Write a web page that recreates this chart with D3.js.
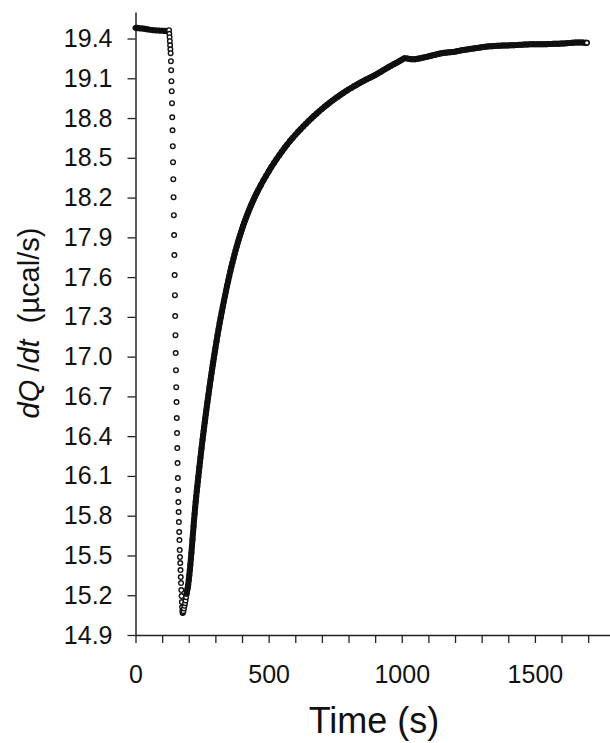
<!DOCTYPE html>
<html>
<head>
<meta charset="utf-8">
<script src="https://cdn.jsdelivr.net/npm/d3@7"></script>
<style>
  html, body { margin: 0; padding: 0; background: #fff; }
  svg { display: block; font-family: "Liberation Sans", Arial, sans-serif; }
</style>
</head>
<body>
<svg id="chart" width="610" height="743"></svg>
<script>
// [time (s), dQ/dt (µcal/s)]
var baseline = [[0,19.48],[3,19.478],[6,19.482],[9,19.477],[12,19.479],[15,19.476],[18,19.478],[21,19.475],
  [24,19.477],[27,19.474],[30,19.476],[33,19.472],[36,19.473],[39,19.47],[42,19.471],[45,19.468],[48,19.469],
  [51,19.466],[54,19.467],[57,19.464],[60,19.465],[63,19.463],[66,19.464],[69,19.462],[72,19.463],[75,19.461],
  [78,19.462],[81,19.46],[84,19.461],[87,19.459],[90,19.46],[93,19.458],[96,19.459],[99,19.458],[102,19.459],
  [105,19.457],[108,19.458],[111,19.457],[114,19.458],[117,19.456],[120,19.457],[123,19.456]];

var injection = [[126,19.463],[127,19.436],[128,19.41],[129,19.38],[130,19.349],[131,19.319],[132,19.289],
  [133,19.229],[134,19.161],[135,19.078],[136,19.003],[137,18.912],[138,18.806],[139,18.708],[140,18.588],
  [141,18.467],[142,18.339],[143,18.203],[144,18.067],[145,17.917],[146,17.766],[147,17.615],[148,17.464],
  [149,17.306],[150,17.162],[151,17.027],[152,16.898],[153,16.77],[154,16.657],[155,16.537],[156,16.423],
  [157,16.31],[158,16.197],[159,16.084],[160,15.994],[161,15.903],[162,15.828],[163,15.752],[164,15.677],
  [165,15.616],[166,15.541],[167,15.488],[168,15.443],[169,15.39],[170,15.337],[171,15.292],[172,15.239],
  [173,15.194],[174,15.149],[175,15.111],[176,15.081],[177,15.066]];

var recovery = [[178,15.07],[180,15.08],[182,15.1],[184,15.12],[186,15.14],[188,15.16],[190,15.185],[192,15.21],
  [194,15.235],[196,15.255],[198,15.28],[200,15.315],[202,15.35],[204,15.39],[206,15.43],[208,15.475],
  [210,15.52],[212,15.57],[214,15.62],[216,15.67],[218,15.72],[220,15.77],[222,15.815],[224,15.86],
  [226,15.905],[228,15.945],[230,15.985],[232,16.02],[234,16.058],[236,16.095],[238,16.132],[240,16.168],
  [242,16.204],[244,16.239],[246,16.274],[248,16.308],[250,16.342],[252,16.375],[254,16.408],[256,16.44],
  [258,16.472],[260,16.504],[262,16.535],[264,16.566],[266,16.596],[268,16.626],[270,16.656],[272,16.685],
  [274,16.714],[276,16.743],[278,16.771],[280,16.799],[282,16.827],[284,16.854],[286,16.881],[288,16.908],
  [290,16.935],[292,16.961],[294,16.987],[296,17.013],[298,17.039],[300,17.064],[304,17.114],[308,17.162],
  [312,17.208],[316,17.253],[320,17.296],[324,17.338],[328,17.379],[332,17.419],[336,17.458],[340,17.496],
  [344,17.534],[348,17.571],[352,17.607],[356,17.642],[360,17.676],[364,17.709],[368,17.741],[372,17.772],
  [376,17.802],[380,17.831],[384,17.859],[388,17.886],[392,17.912],[396,17.937],[400,17.961],[404,17.985],
  [408,18.008],[412,18.03],[416,18.052],[420,18.073],[424,18.093],[428,18.113],[432,18.132],[436,18.151],
  [440,18.169],[444,18.187],[448,18.204],[452,18.221],[456,18.237],[460,18.253],[470,18.291],[480,18.328],
  [490,18.363],[500,18.397],[510,18.43],[520,18.461],[530,18.491],[540,18.52],[550,18.548],[560,18.575],
  [570,18.601],[580,18.626],[590,18.65],[600,18.673],[610,18.695],[620,18.716],[630,18.737],[640,18.757],
  [650,18.777],[660,18.796],[670,18.815],[680,18.833],[690,18.851],[700,18.868],[710,18.885],[720,18.901],
  [730,18.917],[740,18.932],[750,18.947],[760,18.961],[770,18.975],[780,18.989],[790,19.002],[800,19.015],
  [810,19.027],[820,19.039],[830,19.051],[840,19.062],[850,19.073],[860,19.084],[870,19.094],[880,19.104],
  [890,19.114],[900,19.124],[910,19.136],[920,19.148],[930,19.16],[940,19.172],[950,19.184],[960,19.195],
  [970,19.206],[980,19.217],[990,19.228],[1000,19.24],[1010,19.252],[1020,19.25],[1030,19.245],[1040,19.243],
  [1050,19.244],[1060,19.247],[1070,19.251],[1080,19.256],[1090,19.26],[1100,19.265],[1110,19.27],[1120,19.275],
  [1130,19.28],[1140,19.285],[1150,19.289],[1160,19.292],[1170,19.294],[1180,19.296],[1190,19.298],[1200,19.301],
  [1210,19.305],[1220,19.309],[1230,19.313],[1240,19.316],[1250,19.319],[1260,19.322],[1270,19.325],[1280,19.328],
  [1290,19.331],[1300,19.334],[1310,19.337],[1320,19.339],[1330,19.341],[1340,19.342],[1350,19.344],[1360,19.345],
  [1370,19.346],[1380,19.347],[1390,19.347],[1400,19.348],[1410,19.349],[1420,19.349],[1430,19.351],[1440,19.352],
  [1450,19.353],[1460,19.354],[1470,19.355],[1480,19.356],[1490,19.357],[1500,19.357],[1510,19.357],[1520,19.357],
  [1530,19.357],[1540,19.357],[1550,19.358],[1560,19.359],[1570,19.36],[1580,19.36],[1590,19.361],[1600,19.362],
  [1610,19.363],[1620,19.364],[1630,19.366],[1640,19.368],[1650,19.369],[1660,19.37],[1670,19.37],[1680,19.369],
  [1690,19.368],[1695,19.368]];

var yTicks = [14.9,15.2,15.5,15.8,16.1,16.4,16.7,17.0,17.3,17.6,17.9,18.2,18.5,18.8,19.1,19.4];
var xTicks = [0,100,200,300,400,500,600,700,800,900,1000,1100,1200,1300,1400,1500,1600,1700];
var xLabelled = [0,500,1000,1500];

var svg = d3.select('#chart');

var x = d3.scaleLinear().domain([0, 1782]).range([135.5, 610]);
var y = d3.scaleLinear().domain([14.9, 19.6]).range([635, 12]);

// axes
var yAxis = d3.axisLeft(y)
  .tickValues(yTicks)
  .tickFormat(d3.format('.1f'))
  .tickSize(8)
  .tickSizeOuter(0)
  .tickPadding(15);

var xAxis = d3.axisBottom(x)
  .tickValues(xTicks)
  .tickFormat(function(d) { return xLabelled.indexOf(d) >= 0 ? d : ''; })
  .tickSize(8)
  .tickSizeOuter(0)
  .tickPadding(22);

var gy = svg.append('g')
  .attr('transform', 'translate(' + x(0) + ',0)')
  .call(yAxis);

var gx = svg.append('g')
  .attr('transform', 'translate(0,' + y(14.9) + ')')
  .call(xAxis);

[gx, gy].forEach(function(g) {
  g.select('.domain').attr('stroke', '#222').attr('stroke-width', 1.5);
  g.selectAll('.tick line').attr('stroke', '#222').attr('stroke-width', 1.3);
  g.selectAll('.tick text')
    .attr('fill', '#111')
    .style('font-family', '"Liberation Sans", Arial, sans-serif')
    .style('font-size', '25px');
});

// the densely sampled stretches read as a solid band of overlapping markers
var band = d3.line()
  .x(function(d) { return x(d[0]); })
  .y(function(d) { return y(d[1]); })
  .curve(d3.curveMonotoneX);

svg.append('g')
  .attr('class', 'bands')
  .selectAll('path')
  .data([baseline, recovery.filter(function(d) { return d[0] >= 192; })])
  .enter().append('path')
  .attr('d', band)
  .attr('fill', 'none')
  .attr('stroke', '#0d0d0d')
  .attr('stroke-width', 6)
  .attr('stroke-linecap', 'round')
  .attr('stroke-linejoin', 'round');

// data points (open circles)
svg.append('g')
  .attr('class', 'points')
  .selectAll('circle')
  .data(injection.concat(recovery))
  .enter().append('circle')
  .attr('cx', function(d) { return x(d[0]); })
  .attr('cy', function(d) { return y(d[1]); })
  .attr('r', 2.3)
  .attr('fill', function(d) { return d[0] < 192 || d[0] === 1695 ? '#fff' : 'none'; })
  .attr('stroke', '#111')
  .attr('stroke-width', 1.4);

// axis titles
svg.append('text')
  .attr('x', 374)
  .attr('y', 733)
  .attr('text-anchor', 'middle')
  .attr('fill', '#111')
  .style('font-size', '36px')
  .text('Time (s)');

var yl = svg.append('text')
  .attr('transform', 'translate(39,323) rotate(-90)')
  .attr('text-anchor', 'middle')
  .attr('fill', '#111')
  .style('font-size', '29px')
  .attr('xml:space', 'preserve');
yl.append('tspan').style('font-style', 'italic').text('dQ');
yl.append('tspan').text(' /');
yl.append('tspan').style('font-style', 'italic').text('dt');
yl.append('tspan').text('\u00a0 (\u00b5cal/s)');
</script>
</body>
</html>
